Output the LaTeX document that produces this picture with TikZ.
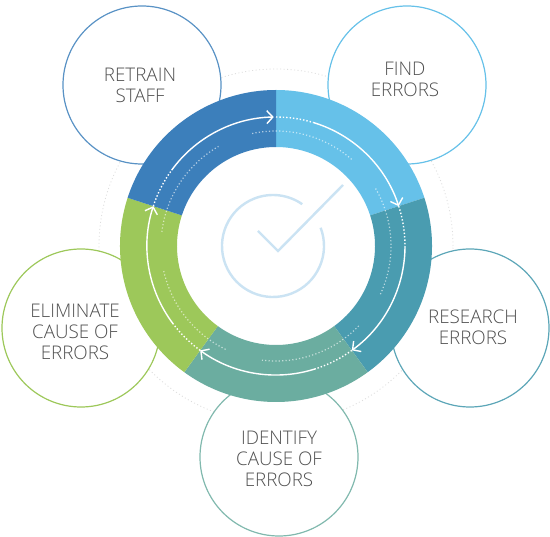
\documentclass[tikz,border=0pt]{standalone}
\usepackage{fontspec}
\setmainfont{Open Sans Light}[BoldFont={Open Sans}]
\usetikzlibrary{arrows.meta}
\definecolor{cblue}{HTML}{3C7FBB}
\definecolor{ccyan}{HTML}{66C1E9}
\definecolor{cteal}{HTML}{4A9CB0}
\definecolor{cgt}{HTML}{6BADA0}
\definecolor{cgreen}{HTML}{9DC85A}
\definecolor{ctext}{HTML}{505050}
\definecolor{cicon}{HTML}{CBE3F3}
\definecolor{cfaint}{HTML}{DDDDDD}
\tikzset{
 x=1pt,y=1pt,
 stepcircle/.style={circle,draw=#1,fill=white,line width=1.2pt,minimum size=158pt,inner sep=0pt,outer sep=0pt},
 steplabel/.style={font=\fontsize{18.8}{21}\selectfont,text=ctext,align=center,inner sep=0pt},
 solidarc/.style={white,line width=1.4pt},
 dotarc/.style={white,line width=1.4pt,dash pattern=on 1.4pt off 2pt},
 faintarc/.style={white,opacity=.6,line width=1.2pt,dash pattern=on 1.2pt off 2.2pt},
 tipped/.style={-{Straight Barb[length=6pt,width=13pt,line width=1.4pt]}},
 iconline/.style={cicon,line width=2.4pt},
}
\newcommand{\ringseg}[3]{\fill[#1] ([shift={(#2:156)}]hub) arc[start angle=#2,end angle=#3,radius=156] -- ([shift={(#3:99)}]hub) arc[start angle=#3,end angle=#2,radius=99] -- cycle;}
\newcommand{\rarc}[4]{\draw[#1] ([shift={(#3:#2)}]hub) arc[start angle=#3,end angle=#4,radius=#2];}
\begin{document}
\begin{tikzpicture}
\useasboundingbox (0,0) rectangle (550,-537);
\fill[white] (0,0) rectangle (550,-537);
\coordinate (hub) at (276,-246);
\coordinate (iconhub) at (273,-246);
\draw[cfaint,line width=.8pt,dash pattern=on 1pt off 2.5pt] (hub) circle[radius=177];
\node[stepcircle=cblue!85!white] (c1) at (142,-85) {};
\node[stepcircle=ccyan] (c2) at (407,-85) {};
\node[stepcircle=cteal!90!white] (c3) at (470,-328) {};
\node[stepcircle=cgt!85!white] (c4) at (279,-457) {};
\node[stepcircle=cgreen] (c5) at (81,-328) {};
\node[steplabel] (t1) at (140,-85.5) {RETRAIN\\STAFF};
\node[steplabel] (t2) at (405,-79.5) {FIND\\ERRORS};
\node[steplabel] (t3) at (473,-327.5) {RESEARCH\\ERRORS};
\node[steplabel] (t4) at (279,-458.5) {IDENTIFY\\CAUSE OF\\ERRORS};
\node[steplabel] (t5) at (75,-331.5) {ELIMINATE\\CAUSE OF\\ERRORS};
\ringseg{ccyan}{90}{18}
\ringseg{cteal}{18}{-54}
\ringseg{cgt}{-54}{-126}
\ringseg{cgreen}{-126}{-198}
\ringseg{cblue}{162}{90}
% white arrows
\rarc{dotarc}{129}{90}{73}
\rarc{solidarc,tipped}{129}{73}{18}
\rarc{dotarc}{129}{18}{0}
\rarc{solidarc,tipped}{129}{0}{-54}
\rarc{dotarc}{129}{-54}{-72}
\rarc{solidarc,tipped}{129}{-72}{-126}
\rarc{dotarc}{129}{-126}{-143}
\rarc{solidarc,tipped}{129}{-143}{-198}
\rarc{dotarc}{129}{162}{144}
\rarc{solidarc,tipped}{129}{144}{91}
% inner dotted
\rarc{faintarc}{115}{102}{48}
\rarc{faintarc}{115}{30}{-25}
\rarc{faintarc}{115}{-44}{-97}
\rarc{faintarc}{115}{-116}{-168}
\rarc{faintarc}{115}{173}{120}
% check icon
\draw[iconline] ([shift={(21:51)}]iconhub) arc[start angle=21,end angle=-305,radius=51];
\coordinate (k1) at (258,-231);
\coordinate (k2) at (278,-251);
\coordinate (k3) at (343,-185);
\draw[iconline] (k1) -- (k2) -- (k3);
\end{tikzpicture}
\end{document}
